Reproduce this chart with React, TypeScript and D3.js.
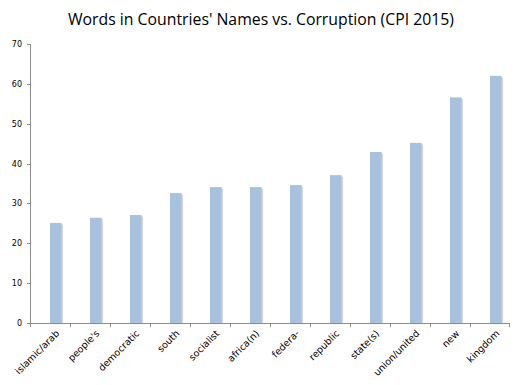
import React from "react";
import * as d3 from "d3";

const categories = ["islamic/arab", "people's", "democratic", "south", "socialist", "africa(n)", "federa-", "republic", "state(s)", "union/united", "new", "kingdom"];
const values = [25.1, 26.4, 27.1, 32.6, 34.1, 34.1, 34.6, 37.1, 42.9, 45.2, 56.6, 62.0];
const yTicks = [0, 10, 20, 30, 40, 50, 60, 70];
const title = "Words in Countries' Names vs. Corruption (CPI 2015)";

const W = 521, H = 385;
const left = 30, right = 510, top = 44, bottom = 323;

export default function App() {
  const x = d3.scaleBand<string>().domain(categories).range([left, right]).padding(0);
  const y = d3.scaleLinear().domain([0, 70]).range([bottom, top]);
  const bw = x.bandwidth();
  const barW = 11.6;
  return (
    <svg width={W} height={H} style={{ position: "absolute", left: 0, top: 0, background: "#fff" }}>
      <text x={261} y={25} textAnchor="middle" fontFamily="Open Sans, sans-serif" fontSize={15.8} fill="#000">{title}</text>
      {categories.map((c, i) => {
        const cx = (x(c) as number) + bw / 2;
        return (
          <g key={c}>
            <rect x={cx + 1.5} y={y(values[i]) + 1.5} width={barW} height={bottom - y(values[i]) - 1.5} fill="#d6d6d6" />
            <rect x={cx} y={y(values[i])} width={barW} height={bottom - y(values[i])} fill="#a7c1df" />
          </g>
        );
      })}
      <line x1={left + 0.5} x2={left + 0.5} y1={top} y2={bottom} stroke="#8c8c8c" strokeWidth={1} />
      {yTicks.map((t) => (
        <g key={t}>
          <line x1={left - 3} x2={left} y1={Math.round(y(t)) + 0.5} y2={Math.round(y(t)) + 0.5} stroke="#8c8c8c" />
          <text x={left - 8} y={y(t) + 3} textAnchor="end" fontFamily="DejaVu Sans, sans-serif" fontSize={8} fill="#000">{t}</text>
        </g>
      ))}
      <line x1={left} x2={right} y1={bottom + 0.5} y2={bottom + 0.5} stroke="#8c8c8c" />
      {categories.map((c) => (
        <line key={"t" + c} x1={(x(c) as number) + 0.5} x2={(x(c) as number) + 0.5} y1={bottom} y2={bottom + 4} stroke="#8c8c8c" />
      ))}
      <line x1={right - 0.5} x2={right - 0.5} y1={bottom} y2={bottom + 4} stroke="#8c8c8c" />
      {categories.map((c) => {
        const ax = (x(c) as number) + bw / 2 + 10;
        const ay = bottom + 11;
        return (
          <text key={"l" + c} x={ax} y={ay} textAnchor="end" transform={`rotate(-45 ${ax} ${ay})`} fontFamily="DejaVu Sans, sans-serif" fontSize={9.5} fill="#000">{c}</text>
        );
      })}
    </svg>
  );
}
